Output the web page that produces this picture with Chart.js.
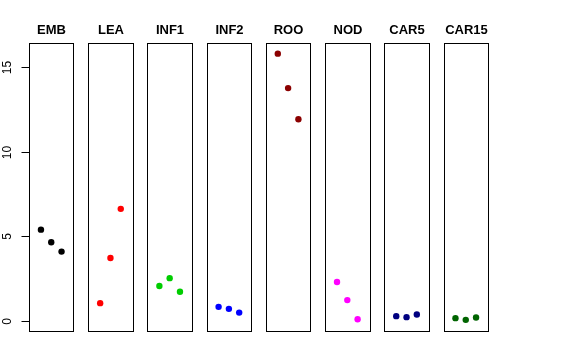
<!DOCTYPE html>
<html>
<head>
<meta charset="utf-8">
<script src="https://cdn.jsdelivr.net/npm/chart.js@4"></script>
<style>
  html, body { margin: 0; padding: 0; background: #fff; }
</style>
</head>
<body>
<canvas id="myChart" width="576" height="360"></canvas>
<script>
const categories = ["EMB", "LEA", "INF1", "INF2", "ROO", "NOD", "CAR5", "CAR15"];
const colors = ["#000000", "#FF0000", "#00CD00", "#0000FF", "#8B0000", "#FF00FF", "#000080", "#006400"];
const values = [
  [5.40, 4.65, 4.10],
  [1.05, 3.72, 6.63],
  [2.06, 2.53, 1.72],
  [0.83, 0.71, 0.49],
  [15.82, 13.78, 11.94],
  [2.30, 1.23, 0.10],
  [0.28, 0.22, 0.38],
  [0.16, 0.06, 0.20],
];
const yTicks = [0, 5, 10, 15];

// each panel spans -0.16..4.16 in its own x units, panels are 5.75 apart
const step = 5.75;
const panelMin = -0.16;
const panelMax = 4.16;

const datasets = categories.map((cat, i) => ({
  label: cat,
  data: values[i].map((v, j) => ({ x: i * step + j + 1, y: v })),
  backgroundColor: colors[i],
  borderColor: colors[i],
  pointRadius: 3.2,
  pointHoverRadius: 3.2,
  borderWidth: 0,
}));

const panels = {
  id: "panels",
  afterDraw(chart) {
    const c = chart.ctx;
    const xs = chart.scales.x;
    const ys = chart.scales.y;
    const top = chart.chartArea.top;
    const bottom = chart.chartArea.bottom;
    c.save();
    c.strokeStyle = "#000";
    c.lineWidth = 1;
    c.fillStyle = "#000";
    c.font = "bold 13px 'Liberation Sans', Arial, sans-serif";
    c.textAlign = "center";
    c.textBaseline = "middle";
    categories.forEach((cat, i) => {
      const l = Math.round(xs.getPixelForValue(i * step + panelMin)) + 0.5;
      const r = Math.round(xs.getPixelForValue(i * step + panelMax)) + 0.5;
      c.strokeRect(l, Math.round(top) + 0.5, r - l, Math.round(bottom) - Math.round(top));
      c.fillText(cat, (l + r) / 2, 30);
    });
    // left axis
    const axisX = Math.round(xs.getPixelForValue(panelMin)) + 0.5;
    c.font = "12px 'Liberation Sans', Arial, sans-serif";
    yTicks.forEach((t) => {
      const y = Math.round(ys.getPixelForValue(t)) + 0.5;
      c.beginPath();
      c.moveTo(axisX - 8, y);
      c.lineTo(axisX, y);
      c.stroke();
      c.save();
      c.translate(8, y);
      c.rotate(-Math.PI / 2);
      c.fillText(String(t), 0, 0);
      c.restore();
    });
    c.restore();
  },
};

const ctx = document.getElementById("myChart");

new Chart(ctx, {
  type: "scatter",
  data: { datasets: datasets },
  options: {
    responsive: false,
    animation: false,
    layout: {
      padding: { left: 29, right: 88, top: 43, bottom: 29 },
    },
    scales: {
      x: { type: "linear", display: false, min: panelMin, max: 7 * step + panelMax },
      y: { type: "linear", display: false, min: -0.6, max: 16.45 },
    },
    plugins: {
      legend: { display: false },
      tooltip: { enabled: false },
    },
  },
  plugins: [panels],
});
</script>
</body>
</html>
